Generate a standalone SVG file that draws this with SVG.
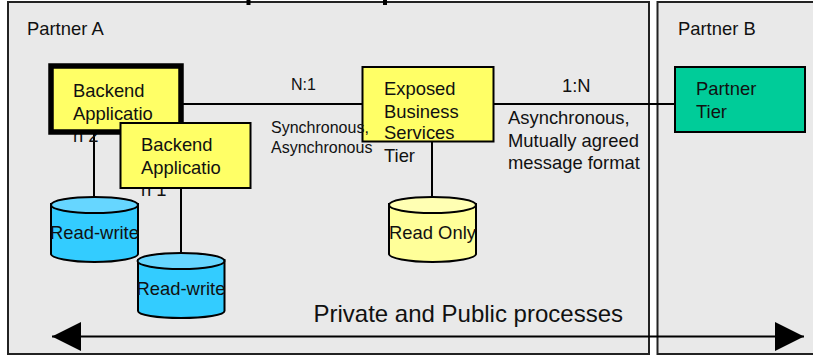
<svg xmlns="http://www.w3.org/2000/svg" width="813" height="355" viewBox="0 0 813 355">
<style>
text{font-family:"Liberation Sans",Arial,sans-serif;fill:#111}
.t{font-size:18.4px}.s{font-size:16px}.m{font-size:18.4px}.l{font-size:24px}
.b{fill:#ffff66;stroke:#000;stroke-width:2}
.c{stroke:#000;stroke-width:2;fill:none}
.panel{fill:#e9e9e9;stroke:#222;stroke-width:2}
</style>
<defs>
<marker id="ah" markerUnits="userSpaceOnUse" markerWidth="30" markerHeight="30" refX="29" refY="14.500" orient="auto-start-reverse"><path d="M0 0L29 14.500L0 29Z" fill="#000"/></marker>
</defs>
<rect width="813" height="355" fill="#fff"/>
<g id="partner-a"><rect class="panel" x="8" y="2" width="641" height="352"/><text class="t" x="27" y="35">Partner A</text></g>
<g id="partner-b"><rect class="panel" x="657.500" y="2" width="170" height="352"/><text class="t" x="678" y="35">Partner B</text></g>
<path d="M248.500 0v5M385 0v5" stroke="#000" stroke-width="4"/>
<g id="connectors">
<path class="c" d="M180 104H675"/>
<path class="c" d="M94 130V198"/>
<path class="c" d="M181 188V254"/>
<path class="c" d="M432 141V198"/>
<path class="c" d="M52 336.500H804" marker-start="url(#ah)" marker-end="url(#ah)"/>
</g>
<g id="backend-2"><text class="t" x="73" y="142">n 2</text><rect x="51" y="66" width="130" height="66" fill="#ffff66" stroke="#000" stroke-width="5.500"/><text class="t" x="73" y="97">Backend</text><text class="t" x="73" y="120">Applicatio</text></g>
<g id="backend-1"><text class="t" x="141" y="196">n 1</text><rect class="b" x="120.500" y="123" width="130" height="65"/><text class="t" x="141" y="151">Backend</text><text class="t" x="141" y="174">Applicatio</text></g>
<g id="exposed"><rect class="b" x="362.500" y="67" width="131" height="74.500"/><text class="t" x="384" y="95">Exposed</text><text class="t" x="384" y="118">Business</text><text class="t" x="384" y="139">Services</text><text class="t" x="384" y="162">Tier</text></g>
<g id="partner-tier"><rect x="675" y="67" width="130" height="65" fill="#00cc99" stroke="#000" stroke-width="2"/><text class="t" x="696" y="95">Partner</text><text class="t" x="696" y="118">Tier</text></g>
<g id="db-rw-2"><path d="M51 204V254C51 258 70 262 94.500 262S138 258 138 254V204Z" fill="#33ccff" stroke="#000" stroke-width="2"/><ellipse cx="94.500" cy="205" rx="43.500" ry="8" fill="#66d6ff" stroke="#000" stroke-width="2"/><text class="t" x="94.500" y="239" text-anchor="middle">Read-write</text></g>
<g id="db-rw-1"><path d="M138 260V311C138 315 157 318 181 318S224.500 315 224.500 311V260Z" fill="#33ccff" stroke="#000" stroke-width="2"/><ellipse cx="181" cy="261" rx="43.500" ry="8" fill="#66d6ff" stroke="#000" stroke-width="2"/><text class="t" x="181" y="295" text-anchor="middle">Read-write</text></g>
<g id="db-ro"><path d="M389 204V254C389 258 408 262 432.500 262S476 258 476 254V204Z" fill="#ffff99" stroke="#000" stroke-width="2"/><ellipse cx="432.500" cy="205" rx="43.500" ry="8" fill="#ffffb3" stroke="#000" stroke-width="2"/><text class="t" x="432.500" y="239" text-anchor="middle">Read Only</text></g>
<g id="labels">
<text class="s" x="291" y="90">N:1</text>
<text class="s" x="271" y="133">Synchronous,</text>
<text class="s" x="271" y="153">Asynchronous</text>
<text class="m" x="562" y="92">1:N</text>
<text class="m" x="508" y="124">Asynchronous,</text>
<text class="m" x="508" y="147">Mutually agreed</text>
<text class="m" x="508" y="169">message format</text>
<text class="l" x="313.500" y="322">Private and Public processes</text>
</g>
</svg>
